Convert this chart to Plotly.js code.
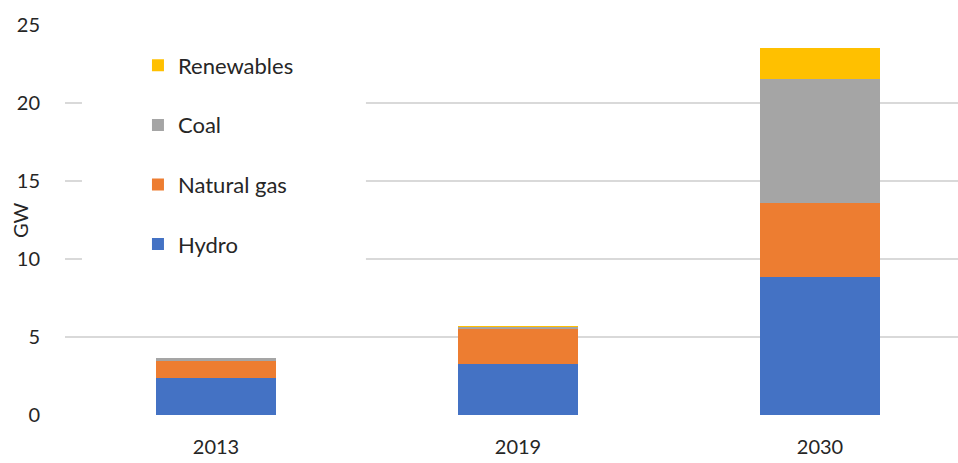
<!DOCTYPE html>
<html>
<head>
<meta charset="utf-8">
<script src="https://cdn.plot.ly/plotly-3.0.1.min.js"></script>
<style>html,body{margin:0;padding:0;background:#fff;}#chart{width:958px;height:463px;}</style>
</head>
<body>
<div id="chart"></div>
<script>
const years = ['2013', '2019', '2030'];
const hydro = [2.35, 3.26, 8.84];
const naturalGas = [1.13, 2.24, 4.78];
const coal = [0.15, 0.11, 7.95];
const renewables = [0.02, 0.08, 1.98];
const seriesNames = ['Hydro', 'Natural gas', 'Coal', 'Renewables'];
const seriesColors = ['#4472C4', '#ED7D31', '#A5A5A5', '#FFC000'];
const seriesValues = [hydro, naturalGas, coal, renewables];

const FONT = 'Lato, "Open Sans", sans-serif';
const traces = seriesValues.map((vals, i) => ({
  type: 'bar',
  name: seriesNames[i],
  x: years,
  y: vals,
  width: 0.4,
  legendgroup: 'g' + i,
  legendrank: seriesNames.length - i,
  marker: {color: seriesColors[i], line: {width: 0}},
  hoverinfo: 'x+y+name'
}));

const layout = {
  width: 958, height: 463,
  barmode: 'stack',
  paper_bgcolor: '#fff', plot_bgcolor: '#fff',
  margin: {l: 65, r: 0, t: 24.7, b: 48},
  font: {family: FONT, size: 20, color: '#262626'},
  showlegend: true,
  legend: {
    x: 0.019, y: 0.95, xanchor: 'left', yanchor: 'top',
    bgcolor: '#ffffff',
    traceorder: 'grouped',
    tracegroupgap: 28,
    indentation: 56,
    font: {family: FONT, size: 22, color: '#262626'}
  },
  shapes: [{
    type: 'rect', xref: 'paper', yref: 'paper',
    x0: 0.019, x1: 0.337, y0: 0.385, y1: 0.985,
    fillcolor: '#ffffff', line: {width: 0}, layer: 'above'
  }],
  annotations: [{
    text: 'GW', xref: 'paper', yref: 'paper', x: 0, y: 0.5,
    xanchor: 'center', yanchor: 'middle', xshift: -45, textangle: -90,
    showarrow: false, font: {family: FONT, size: 20, color: '#262626'}
  }],
  xaxis: {
    type: 'category',
    range: [-0.5, 2.457],
    showgrid: false, zeroline: false, showline: false,
    ticks: 'outside', ticklen: 14, tickcolor: 'rgba(0,0,0,0)',
    tickfont: {family: FONT, size: 20, color: '#262626'},
    fixedrange: true
  },
  yaxis: {
    range: [0, 25], dtick: 5,
    showgrid: true, gridcolor: '#d9d9d9', gridwidth: 1.3,
    zeroline: false, showline: false,
    ticks: 'outside', ticklen: 20, tickcolor: 'rgba(0,0,0,0)',
    tickfont: {family: FONT, size: 20, color: '#262626'},
    fixedrange: true
  }
};

Plotly.newPlot('chart', traces, layout, {displayModeBar: false, staticPlot: true});
</script>
</body>
</html>
